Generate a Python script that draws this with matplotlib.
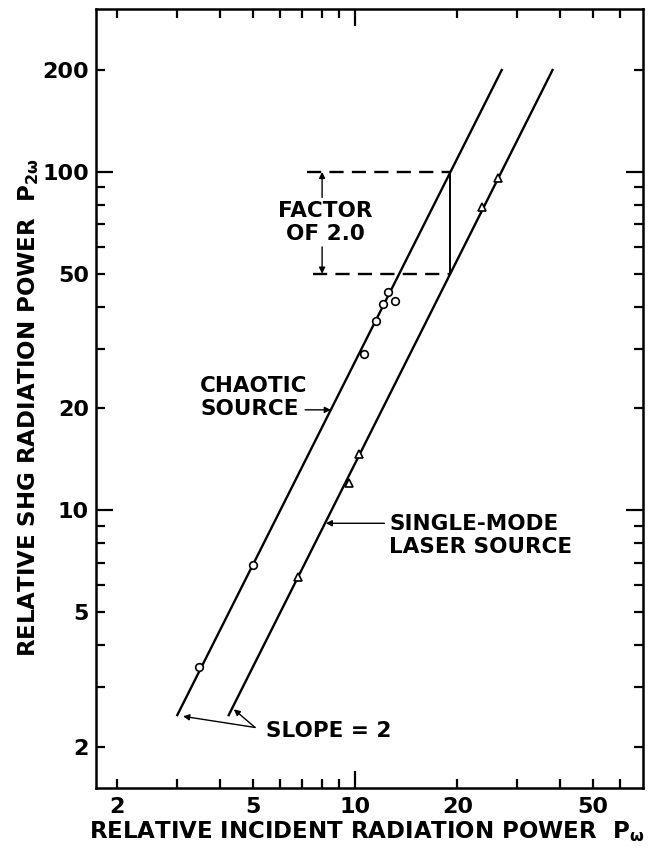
import matplotlib
matplotlib.use("Agg")
import matplotlib.pyplot as plt
from matplotlib.ticker import FixedLocator, FixedFormatter

plt.rcParams['font.family'] = ['DejaVu Sans']
plt.rcParams['mathtext.fontset'] = 'dejavusans'

# ---- data ----
chaotic_x = [3.48, 5.01, 10.6, 11.5, 12.1, 12.5, 13.1]
chaotic_y = [3.45, 6.88, 28.9, 36.2, 40.6, 44.2, 41.5]

laser_x = [6.79, 9.6, 10.3, 23.7, 26.4]
laser_y = [6.34, 12.0, 14.7, 78.8, 96.0]

# slope-2 fitted lines (end points)
chaotic_fit_x = [3.0, 27.0]
chaotic_fit_y = [2.48, 200.0]
laser_fit_x = [4.25, 38.1]
laser_fit_y = [2.48, 200.0]

# factor-of-2 construction
factor_x = 19.0
factor_levels = [100.0, 50.0]
factor_dash_start = [7.2, 7.5]

x_major = [10]
x_minor = [2, 3, 4, 5, 6, 7, 8, 9, 20, 30, 40, 50, 60]
x_minor_labels = ['2', '', '', '5', '', '', '', '', '20', '', '', '50', '']
y_major = [10, 100]
y_minor = [2, 3, 4, 5, 6, 7, 8, 9, 20, 30, 40, 50, 60, 70, 80, 90, 200]
y_minor_labels = ['2', '', '', '5', '', '', '', '', '20', '', '', '50', '', '', '', '', '200']

fig = plt.figure(figsize=(6.5, 8.48), dpi=100)
ax = fig.add_axes([96/650, 1-788/848, (643-96)/650, (788-9)/848])
ax.set_xscale('log')
ax.set_yscale('log')
ax.set_xlim(1.73, 70.3)
ax.set_ylim(1.51, 303)

lw = 1.7
ax.plot(chaotic_fit_x, chaotic_fit_y, color='black', lw=lw, zorder=2)
ax.plot(laser_fit_x, laser_fit_y, color='black', lw=lw, zorder=2)
ax.plot(chaotic_x, chaotic_y, 'o', ms=5.5, mfc='white', mec='black', mew=1.2, zorder=3)
ax.plot(laser_x, laser_y, '^', ms=6, mfc='white', mec='black', mew=1.2, zorder=3)

# factor of 2 construction
ax.plot([factor_x, factor_x], factor_levels, color='black', lw=1.4)
for lev, xs in zip(factor_levels, factor_dash_start):
    ax.plot([xs, factor_x], [lev, lev], color='black', lw=1.7, ls=(0, (6, 3.5)))

ap = dict(arrowstyle='-|>', color='black', lw=1.0, mutation_scale=9, shrinkA=0, shrinkB=0)
ax.annotate('', xy=(8.0, 100), xytext=(8.0, 84), arrowprops=ap)
ax.annotate('', xy=(8.0, 50), xytext=(8.0, 60), arrowprops=ap)
ax.text(8.17, 70.7, 'FACTOR\nOF 2.0', ha='center', va='center', fontsize=15.5,
        fontweight='bold', linespacing=1.2)

ax.text(3.5, 21.5, 'CHAOTIC\nSOURCE', ha='left', va='center', fontsize=15.5,
        fontweight='bold', linespacing=1.2)
ax.annotate('', xy=(8.49, 19.8), xytext=(7.13, 19.8), arrowprops=ap)

ax.text(12.6, 8.44, 'SINGLE-MODE\nLASER SOURCE', ha='left', va='center', fontsize=15.5,
        fontweight='bold', linespacing=1.2)
ax.annotate('', xy=(8.2, 9.15), xytext=(12.2, 9.15), arrowprops=ap)

ax.text(5.47, 2.23, 'SLOPE = 2', ha='left', va='center', fontsize=15.5, fontweight='bold')
ax.annotate('', xy=(3.12, 2.46), xytext=(5.08, 2.28), arrowprops=ap)
ax.annotate('', xy=(4.40, 2.58), xytext=(5.08, 2.28), arrowprops=ap)

# ticks
ax.xaxis.set_major_locator(FixedLocator(x_major))
ax.xaxis.set_major_formatter(FixedFormatter(['10']))
ax.xaxis.set_minor_locator(FixedLocator(x_minor))
ax.xaxis.set_minor_formatter(FixedFormatter(x_minor_labels))
ax.yaxis.set_major_locator(FixedLocator(y_major))
ax.yaxis.set_major_formatter(FixedFormatter(['10', '100']))
ax.yaxis.set_minor_locator(FixedLocator(y_minor))
ax.yaxis.set_minor_formatter(FixedFormatter(y_minor_labels))

ax.tick_params(which='both', direction='in', top=True, right=True, width=1.6,
               labelsize=16, colors='black')
ax.tick_params(which='major', length=12)
ax.tick_params(which='minor', length=6.5)
ax.tick_params(axis='x', which='both', pad=6.5)
ax.tick_params(axis='y', which='both', pad=5)
for lab in ax.get_xticklabels(which='both') + ax.get_yticklabels(which='both'):
    lab.set_fontweight('bold')
for s in ax.spines.values():
    s.set_linewidth(1.8)

fig.text(367/650, 1-832/848, r'RELATIVE INCIDENT RADIATION POWER  $\mathbf{P_{\omega}}$',
         ha='center', va='center', fontsize=16.5, fontweight='bold')
fig.text(29/650, 1-408/848, r'RELATIVE SHG RADIATION POWER  $\mathbf{P_{2\omega}}$',
         ha='center', va='center', fontsize=16.5, fontweight='bold', rotation=90)

fig.savefig('out.png', dpi=100)
